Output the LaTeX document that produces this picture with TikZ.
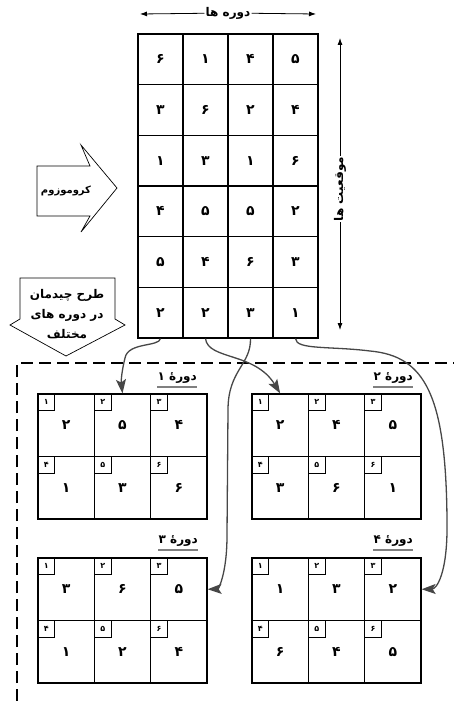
\documentclass[tikz,border=0pt]{standalone}
\usepackage{fontspec}
\newfontfamily\fa[Script=Arabic]{DejaVu Sans}
\TeXXeTstate=1
\usetikzlibrary{arrows.meta}
\newcommand\pdig[1]{\ifcase#1 ۰\or ۱\or ۲\or ۳\or ۴\or ۵\or ۶\fi}
\newcommand\periodgrid[4]{%
  \foreach \v [count=\i from 0] in {#4} {
    \pgfmathtruncatemacro\rr{\i/3}
    \pgfmathtruncatemacro\cc{\i-3*\rr}
    \pgfmathtruncatemacro\nn{\i+1}
    \node[pcell] (#1-\nn) at ({#2+56.33*(\cc+0.5)},{#3+62.5*(\rr+0.5)}) {\v};
    \node[pidx] (#1-i\nn) at (#1-\nn.north west) {\pdig{\nn}};
  }
}
\begin{document}
\begin{tikzpicture}[x=1pt,y=-1pt,
  ccell/.style={draw, line width=1.2pt, inner sep=0pt, minimum width=45pt, minimum height=50.667pt, font=\fa\bfseries\fontsize{14}{16}\selectfont},
  pcell/.style={draw, line width=1.2pt, inner sep=0pt, minimum width=56.33pt, minimum height=62.5pt, font=\fa\bfseries\fontsize{14}{16}\selectfont},
  pidx/.style={draw, line width=1pt, inner sep=0pt, anchor=north west, minimum size=17pt, font=\fa\bfseries\fontsize{8}{9}\selectfont},
  lbl/.style={inner sep=1pt, font=\fa\bfseries\fontsize{11}{13}\selectfont},
  ptitle/.style={inner sep=0pt, anchor=base east, font=\fa\bfseries\fontsize{12}{14}\selectfont},
  uline/.style={draw=black!50, line width=1.2pt},
  axis/.style={draw, line width=0.8pt, -{Latex[length=7pt,width=5pt]}},
  blockarrow/.style={draw, line width=0.7pt, fill=white, line join=miter},
  dashline/.style={draw, line width=1.3pt, dash pattern=on 12pt off 6pt},
  conn/.style={draw=black!72, line width=1.3pt, -{Stealth[length=14pt,width=10pt,inset=3pt]}}
]
\useasboundingbox (0,0) rectangle (454,701);

% chromosome grid
\foreach \row [count=\r] in {{۶,۱,۴,۵},{۳,۶,۲,۴},{۱,۳,۱,۶},{۴,۵,۵,۲},{۵,۴,۶,۳},{۲,۲,۳,۱}} {
  \foreach \v [count=\c] in \row {
    \node[ccell] (ch-\r-\c) at ({138+45*(\c-0.5)},{34+50.667*(\r-0.5)}) {\v};
  }
}

% top axis
\node[lbl, fill=white, font=\fa\bfseries\fontsize{12}{14}\selectfont] (periods) at (228,13) {\beginR دوره ها\endR};
\coordinate (tl) at (140,14);
\coordinate (tr) at (316,14);
\draw[axis] (periods) -- (tl);
\draw[axis] (periods) -- (tr);

% right axis
\node[lbl, fill=white, rotate=90, font=\fa\bfseries\fontsize{12}{14}\selectfont] (positions) at (340,189) {\beginR موقعیت ها\endR};
\coordinate (pt) at (340,38);
\coordinate (pb) at (340,330);
\draw[axis] (positions) -- (pt);
\draw[axis] (positions) -- (pb);

% chromosome block arrow
\draw[blockarrow] (37,166) -- (90,166) -- (81,145) -- (117,188) -- (81,232) -- (90,216) -- (37,216) -- cycle;
\node[lbl, font=\fa\bfseries\fontsize{10}{12}\selectfont] (chromo) at (66,191) {\beginR کروموزوم\endR};

% layout block arrow
\draw[blockarrow] (20,278) -- (115,278) -- (115,319) -- (125,325) -- (66,356) -- (10,325) -- (20,319) -- cycle;
\node[lbl, align=center, font=\fa\bfseries\fontsize{12}{20}\selectfont] (layout) at (67,314) {\beginR طرح چیدمان\endR\\\beginR در دوره های\endR\\\beginR مختلف\endR};

% dashed frame
\draw[dashline] (17,701) -- (17,363) -- (454,363);

% period grids
\periodgrid{p1}{38}{394}{۲,۵,۴,۱,۳,۶}
\periodgrid{p2}{252}{394}{۲,۴,۵,۳,۶,۱}
\periodgrid{p3}{38}{558}{۳,۶,۵,۱,۲,۴}
\periodgrid{p4}{252}{558}{۱,۳,۲,۶,۴,۵}

% titles
\node[ptitle] (t1) at (197,380) {\beginR دورهٔ ۱\endR};
\node[ptitle] (t2) at (413,380) {\beginR دورهٔ ۲\endR};
\node[ptitle] (t3) at (198,543) {\beginR دورهٔ ۳\endR};
\node[ptitle] (t4) at (413,543) {\beginR دورهٔ ۴\endR};
\foreach \t in {t1,t2,t3,t4} {
  \draw[uline] ([yshift=-7pt]\t.base west) -- ([yshift=-7pt]\t.base east);
}

% connectors
\coordinate (k1) at (125,358);
\coordinate (k3a) at (228,410);
\coordinate (k3b) at (227,535);
\coordinate (k4a) at (370,351);
\coordinate (k4b) at (447,520);
\draw[conn] (ch-6-1.south) .. controls (159,347) and (128,342) .. (k1) .. controls (122,370) and (121,380) .. (p1-2.north);
\draw[conn] (ch-6-2.south) .. controls (208,360) and (255,352) .. (p2-1.north);
\draw[conn] (ch-6-3.south) .. controls (251,365) and (228,370) .. (k3a) -- (k3b) .. controls (227,575) and (218,589) .. (p3-3.east);
\draw[conn] (ch-6-4.south) .. controls (296,350) and (330,346) .. (k4a) .. controls (425,356) and (446,395) .. (k4b) .. controls (448,575) and (436,589) .. (p4-3.east);
\end{tikzpicture}
\end{document}
